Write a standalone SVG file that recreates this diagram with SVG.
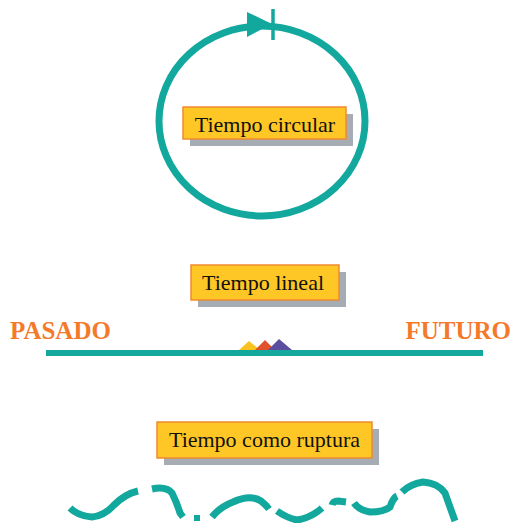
<svg xmlns="http://www.w3.org/2000/svg" width="514" height="523" viewBox="0 0 514 523">
<style>
.teal{fill:none;stroke:#12A89D;stroke-width:7}
.box{fill:#FFC726;stroke:#F08A30;stroke-width:1.5}
.shadow{fill:#A6ACB3}
.lbl{font-family:"Liberation Serif","Times New Roman",serif;font-size:22px;fill:#111;text-anchor:middle}
.era{font-family:"Liberation Serif","Times New Roman",serif;font-size:25px;font-weight:bold;fill:#F47A2A}
</style>
<rect width="514" height="523" fill="#fff"/>
<g id="connectors">
<g id="circle-time">
<ellipse class="teal" cx="262" cy="121" rx="103" ry="95"/>
<polygon points="247,12 272,24 247,37" fill="#12A89D"/>
<line x1="273" y1="9" x2="273" y2="40" stroke="#12A89D" stroke-width="3.5"/>
</g>
<g id="linear-time">
<rect x="46" y="350" width="437" height="6" fill="#12A89D"/>
<polygon points="239,350 249,341 260,350" fill="#F9C31F"/>
<polygon points="255,350 265,340 275,350" fill="#E2522A"/>
<polygon points="268,350 279,339 292,350" fill="#5B4EA0"/>
</g>
<g id="rupture-time" class="teal">
<path d="M70,508 Q78,516 92,517 Q104,516 114,505 Q125,494 138,491"/>
<path d="M152,489 Q166,486 172,493 Q177,503 180,513 L183,517"/>
<rect x="194" y="515" width="6" height="6" fill="#12A89D" stroke="none"/>
<path d="M212,517 Q220,507 233,502 Q250,494 261,501 Q266,505 269,509"/>
<path d="M277,511 Q287,518 297,520 Q311,518 322,508"/>
<path d="M332,505 Q333,501 338,501 L346,502"/>
<path d="M354,503 Q359,510 370,512 Q384,512 390,507 Q393,498 397,496"/>
<path d="M402,492 Q410,484 423,482 Q438,483 445,493 Q450,507 455,521"/>
</g>
</g>
<g id="node-circular">
<rect class="shadow" x="190" y="114" width="163" height="32"/>
<rect class="box" x="183" y="107" width="163" height="32"/>
<text class="lbl" x="265" y="132">Tiempo circular</text>
</g>
<g id="node-lineal">
<rect class="shadow" x="198" y="272" width="148" height="35"/>
<rect class="box" x="191" y="265" width="148" height="35"/>
<text class="lbl" x="263" y="290">Tiempo lineal</text>
</g>
<g id="node-pasado">
<text class="era" x="10" y="339">PASADO</text>
</g>
<g id="node-futuro">
<text class="era" x="511" y="339" text-anchor="end">FUTURO</text>
</g>
<g id="node-ruptura">
<rect class="shadow" x="164" y="429" width="215" height="36"/>
<rect class="box" x="157" y="422" width="215" height="36"/>
<text class="lbl" x="264.5" y="447">Tiempo como ruptura</text>
</g>
</svg>
